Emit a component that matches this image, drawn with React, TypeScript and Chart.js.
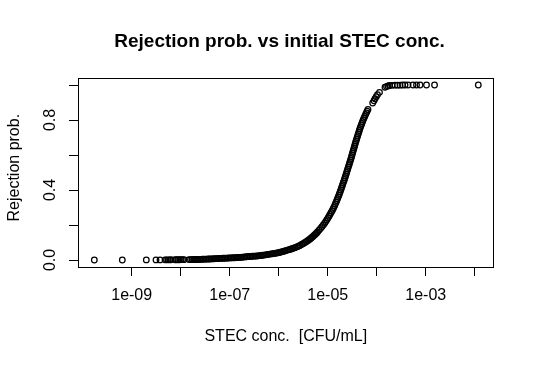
import React, { useEffect, useRef } from "react";
import { Chart, registerables } from "chart.js";

Chart.register(...registerables);

const FONT = "'Liberation Sans', Arial, Helvetica, sans-serif";

const titleText = "Rejection prob. vs initial STEC conc.";
const xTitle = "STEC conc.  [CFU/mL]";
const yTitle = "Rejection prob.";

// axis ticks
const xTickExponents = [-9, -8, -7, -6, -5, -4, -3, -2];
const xLabeledExponents = [-9, -7, -5, -3];
const yTickValues = [0, 0.2, 0.4, 0.6, 0.8, 1.0];
const yLabeledValues = [0, 0.4, 0.8];

// axis limits (log10 of concentration for x)
const xMinLog = -10.096;
const xMaxLog = -1.627;
const yMin = -0.04;
const yMax = 1.04;

// data: log10(STEC conc. [CFU/mL]) and rejection probability
const tailLogConc = [
  -9.763, -9.192, -8.702, -8.504, -8.422, -8.32, -8.29, -8.259, -8.229, -8.198,
  -8.116, -8.086, -8.055, -8.024, -7.994, -7.963, -7.933, -7.831, -7.8, -7.769,
  -7.739, -7.708, -7.678,
];
const tailProb = [
  0.0, 0.0001, 0.0003, 0.0005, 0.0006, 0.0008, 0.0009, 0.001, 0.0011, 0.0012,
  0.0014, 0.0015, 0.0016, 0.0017, 0.0018, 0.0019, 0.002, 0.0022, 0.0023, 0.0024,
  0.0026, 0.0027, 0.0028,
];

const footLogConc = [
  -7.65, -7.62, -7.59, -7.56, -7.53, -7.5, -7.47, -7.44, -7.41, -7.38,
  -7.35, -7.32, -7.29, -7.26, -7.23, -7.2, -7.17, -7.14, -7.11, -7.08,
  -7.05, -7.02, -6.99, -6.96, -6.93, -6.9, -6.87, -6.84, -6.81, -6.78,
  -6.75, -6.72, -6.69, -6.66, -6.63, -6.6, -6.57, -6.54, -6.51, -6.48,
  -6.45, -6.42, -6.39, -6.36, -6.33, -6.3, -6.27, -6.24, -6.21, -6.18,
  -6.15, -6.12, -6.09, -6.06, -6.03, -6.0, -5.97, -5.94, -5.91, -5.88,
  -5.85, -5.82, -5.79, -5.76, -5.73, -5.7, -5.67, -5.64, -5.61, -5.58,
];
const footProb = [
  0.003, 0.0034, 0.0038, 0.0042, 0.0046, 0.005, 0.0053, 0.0056, 0.0059, 0.0062,
  0.0065, 0.007, 0.0075, 0.008, 0.0085, 0.009, 0.0094, 0.0098, 0.0102, 0.0106,
  0.011, 0.0114, 0.0118, 0.0122, 0.0126, 0.013, 0.0136, 0.0142, 0.0148, 0.0154,
  0.016, 0.0168, 0.0176, 0.0184, 0.0192, 0.02, 0.0206, 0.0212, 0.0218, 0.0224,
  0.023, 0.024, 0.025, 0.026, 0.027, 0.028, 0.0294, 0.0308, 0.0322, 0.0336,
  0.035, 0.0364, 0.0378, 0.0392, 0.0406, 0.042, 0.0444, 0.0468, 0.0492, 0.0516,
  0.054, 0.0566, 0.0592, 0.0618, 0.0644, 0.067, 0.0705, 0.074, 0.0775, 0.081,
];

const riseLogConc = [
  -5.559, -5.524, -5.494, -5.463, -5.437, -5.41, -5.386, -5.361, -5.341, -5.32,
  -5.3, -5.28, -5.261, -5.243, -5.224, -5.208, -5.178, -5.147, -5.118, -5.09,
  -5.063, -5.039, -5.016, -4.994, -4.973, -4.953, -4.933, -4.912, -4.894, -4.876,
  -4.859, -4.845, -4.829, -4.814, -4.8, -4.786, -4.771, -4.759, -4.745, -4.733,
  -4.72, -4.708, -4.696, -4.684, -4.671, -4.659, -4.647, -4.637, -4.624, -4.614,
  -4.602, -4.592, -4.58, -4.569, -4.557, -4.547, -4.535, -4.524, -4.514, -4.504,
  -4.494, -4.484, -4.473, -4.463, -4.453, -4.443, -4.433, -4.422, -4.41, -4.4,
  -4.388, -4.378, -4.365, -4.355, -4.343, -4.331, -4.316, -4.304, -4.29, -4.276,
  -4.261, -4.245, -4.229, -4.212, -4.196,
];
const riseProb = [
  0.085, 0.09, 0.095, 0.1, 0.105, 0.11, 0.115, 0.12, 0.125, 0.13,
  0.135, 0.14, 0.145, 0.15, 0.155, 0.16, 0.17, 0.18, 0.19, 0.2,
  0.21, 0.22, 0.23, 0.24, 0.25, 0.26, 0.27, 0.28, 0.29, 0.3,
  0.31, 0.32, 0.33, 0.34, 0.35, 0.36, 0.37, 0.38, 0.39, 0.4,
  0.41, 0.42, 0.43, 0.44, 0.45, 0.46, 0.47, 0.48, 0.49, 0.5,
  0.51, 0.52, 0.53, 0.54, 0.55, 0.56, 0.57, 0.58, 0.59, 0.6,
  0.61, 0.62, 0.63, 0.64, 0.65, 0.66, 0.67, 0.68, 0.69, 0.7,
  0.71, 0.72, 0.73, 0.74, 0.75, 0.76, 0.77, 0.78, 0.79, 0.8,
  0.81, 0.82, 0.83, 0.84, 0.85,
];

const shoulderLogConc = [
  -4.178, -4.082, -4.055, -4.035, -4.01, -3.984, -3.943, -3.831, -3.8, -3.769, -3.739,
];
const shoulderProb = [
  0.86, 0.897, 0.91, 0.922, 0.933, 0.945, 0.958, 0.987, 0.991, 0.995, 0.997,
];

const plateauLogConc = [
  -3.688, -3.627, -3.576, -3.524, -3.473, -3.422, -3.361, -3.259, -3.188, -3.116,
  -2.984, -2.82, -1.927,
];
const plateauProb = [
  0.998, 0.999, 0.999, 0.999, 1.0, 1.0, 1.0, 1.0, 1.0, 1.0, 1.0, 1.0, 1.0,
];

const allLogConc = [
  ...tailLogConc,
  ...footLogConc,
  ...riseLogConc,
  ...shoulderLogConc,
  ...plateauLogConc,
];
const allProb = [...tailProb, ...footProb, ...riseProb, ...shoulderProb, ...plateauProb];

const formatExp = (e: number) =>
  "1e" + (e < 0 ? "-" : "+") + String(Math.abs(e)).padStart(2, "0");

const framePlugin = {
  id: "rframe",
  afterDraw(chart: any) {
    const { ctx, chartArea: a } = chart;
    ctx.save();
    ctx.strokeStyle = "#000";
    ctx.lineWidth = 1;
    ctx.strokeRect(a.left + 0.5, a.top + 0.5, a.right - a.left, a.bottom - a.top);
    ctx.fillStyle = "#000";
    ctx.textAlign = "center";
    ctx.textBaseline = "alphabetic";
    ctx.font = `bold 19px ${FONT}`;
    ctx.fillText(titleText, 279.5, 47);
    ctx.font = `16px ${FONT}`;
    ctx.fillText(xTitle, 285.8, 340.5);
    ctx.translate(19, 167.7);
    ctx.rotate(-Math.PI / 2);
    ctx.fillText(yTitle, 0, 0);
    ctx.restore();
  },
};

export default function App() {
  const ref = useRef<HTMLCanvasElement | null>(null);

  useEffect(() => {
    document.body.style.margin = "0";
    if (!ref.current) return;
    Chart.defaults.font.family = FONT;
    const data = allLogConc.map((l, i) => ({ x: Math.pow(10, l), y: allProb[i] }));
    const chart = new Chart(ref.current, {
      type: "scatter",
      data: {
        datasets: [
          {
            data,
            showLine: false,
            pointStyle: "circle",
            pointRadius: 2.8,
            pointBorderWidth: 1.25,
            pointBorderColor: "#000",
            pointBackgroundColor: "rgba(0,0,0,0)",
            pointHoverRadius: 2.8,
          },
        ],
      },
      options: {
        animation: false,
        responsive: false,
        devicePixelRatio: 1,
        events: [],
        layout: { padding: { left: 0, top: 78, right: 41, bottom: 0 } },
        plugins: {
          legend: { display: false },
          title: { display: false },
          tooltip: { enabled: false },
        },
        scales: {
          x: {
            type: "logarithmic",
            min: Math.pow(10, xMinLog),
            max: Math.pow(10, xMaxLog),
            afterBuildTicks: (scale: any) => {
              scale.ticks = xTickExponents.map((e) => ({ value: Math.pow(10, e) }));
            },
            afterFit: (scale: any) => {
              scale.height = 98;
            },
            border: { display: false },
            grid: {
              drawOnChartArea: false,
              drawTicks: true,
              tickLength: 9,
              tickColor: "#000",
              tickWidth: 1,
              color: "#000",
            },
            ticks: {
              autoSkip: false,
              maxRotation: 0,
              minRotation: 0,
              padding: 10,
              color: "#000",
              font: { size: 16, family: FONT },
              callback: (value: any) => {
                const e = Math.round(Math.log10(Number(value)));
                return xLabeledExponents.includes(e) ? formatExp(e) : "";
              },
            },
          },
          y: {
            type: "linear",
            min: yMin,
            max: yMax,
            afterBuildTicks: (scale: any) => {
              scale.ticks = yTickValues.map((v) => ({ value: v }));
            },
            afterFit: (scale: any) => {
              scale.width = 78;
            },
            border: { display: false },
            grid: {
              drawOnChartArea: false,
              drawTicks: true,
              tickLength: 9,
              tickColor: "#000",
              tickWidth: 1,
              color: "#000",
            },
            ticks: {
              autoSkip: false,
              minRotation: 90,
              maxRotation: 90,
              crossAlign: "center",
              padding: 7,
              color: "#000",
              font: { size: 16, family: FONT },
              callback: (value: any) => {
                const v = Number(value);
                return yLabeledValues.some((t) => Math.abs(t - v) < 1e-9) ? v.toFixed(1) : "";
              },
            },
          },
        },
      },
      plugins: [framePlugin],
    } as any);
    return () => chart.destroy();
  }, []);

  return (
    <div style={{ position: "absolute", left: 0, top: 0, width: 534, height: 365, background: "#fff" }}>
      <canvas ref={ref} width={534} height={365} style={{ display: "block" }} />
    </div>
  );
}
